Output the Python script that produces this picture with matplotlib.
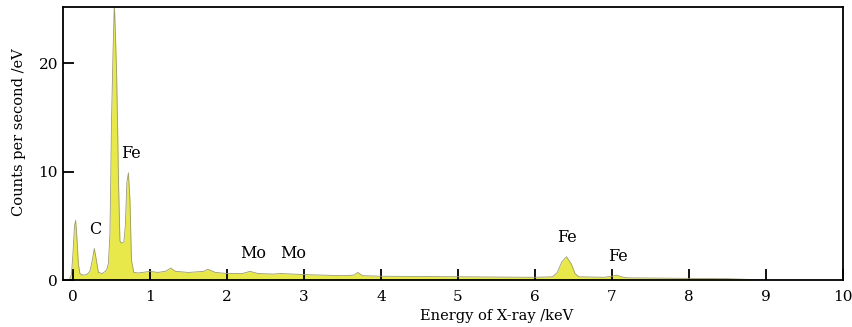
import matplotlib.pyplot as plt

# EDS spectrum (energy in keV, counts per second per eV)
energy = [-0.05, -0.02, 0.0, 0.02, 0.035, 0.05, 0.07, 0.09, 0.12, 0.18,
          0.22, 0.25, 0.277, 0.30, 0.33, 0.38, 0.42, 0.44, 0.46, 0.48,
          0.49, 0.50, 0.52, 0.537, 0.55, 0.567, 0.58, 0.59, 0.61, 0.63,
          0.66, 0.68, 0.70, 0.72, 0.74, 0.76, 0.79, 0.85, 0.9, 1.0,
          1.1, 1.2, 1.27, 1.33, 1.5, 1.7, 1.75, 1.85, 2.0, 2.2,
          2.3, 2.4, 2.6, 2.7, 3.0, 3.5, 3.65, 3.7, 3.76, 4.0,
          5.0, 6.0, 6.23, 6.29, 6.35, 6.41, 6.47, 6.52, 6.57, 6.9,
          7.0, 7.06, 7.12, 7.2, 8.0, 8.5, 9.0]
counts = [0.0, 0.5, 2.5, 5.0, 5.5, 4.0, 1.5, 0.6, 0.45, 0.5,
          0.8, 1.8, 2.9, 2.0, 0.7, 0.6, 0.8, 1.0, 1.5, 4.3,
          9.0, 14.5, 21.0, 25.5, 23.0, 19.0, 14.0, 9.5, 3.6, 3.4,
          3.5, 5.0, 9.0, 9.9, 7.4, 1.8, 0.7, 0.65, 0.7, 0.8,
          0.7, 0.8, 1.1, 0.8, 0.7, 0.8, 1.0, 0.7, 0.6, 0.6,
          0.8, 0.6, 0.55, 0.6, 0.5, 0.4, 0.45, 0.7, 0.4, 0.35,
          0.3, 0.25, 0.3, 0.7, 1.7, 2.15, 1.5, 0.6, 0.3, 0.25,
          0.35, 0.45, 0.3, 0.2, 0.15, 0.12, 0.0]

# peak labels: text, energy, height
peak_names = ['C', 'Fe', 'Mo', 'Mo', 'Fe', 'Fe']
peak_x = [0.29, 0.75, 2.34, 2.86, 6.42, 7.08]
peak_y = [3.9, 10.9, 1.7, 1.7, 3.1, 1.4]

x_ticks = list(range(0, 11))
y_ticks = [0, 10, 20]

plt.rcParams['font.family'] = ['DejaVu Serif']

fig = plt.figure(figsize=(8.52, 3.27), dpi=100)
ax = fig.add_axes([0.0739, 0.1437, 0.9155, 0.8349])

ax.fill_between(energy, counts, 0, color='#e8e84a', linewidth=0)
ax.plot(energy, counts, color='#9a9a70', linewidth=0.6)

for name, px, py in zip(peak_names, peak_x, peak_y):
    ax.text(px, py, name, ha='center', va='bottom', fontsize=11.5)

ax.set_xlim(-0.13, 10)
ax.set_ylim(0, 25.2)
ax.set_xticks(x_ticks)
ax.set_yticks(y_ticks)
ax.tick_params(direction='in', length=8, width=1.3, labelsize=11)
ax.tick_params(axis='x', pad=7)
for s in ax.spines.values():
    s.set_linewidth(1.3)

ax.set_xlabel('Energy of X-ray /keV', fontsize=10.5)
ax.xaxis.set_label_coords(0.556, -0.105)
ax.set_ylabel('Counts per second /eV', fontsize=10.5)
ax.yaxis.set_label_coords(-0.047, 0.54)

fig.savefig('out.png', dpi=100)
